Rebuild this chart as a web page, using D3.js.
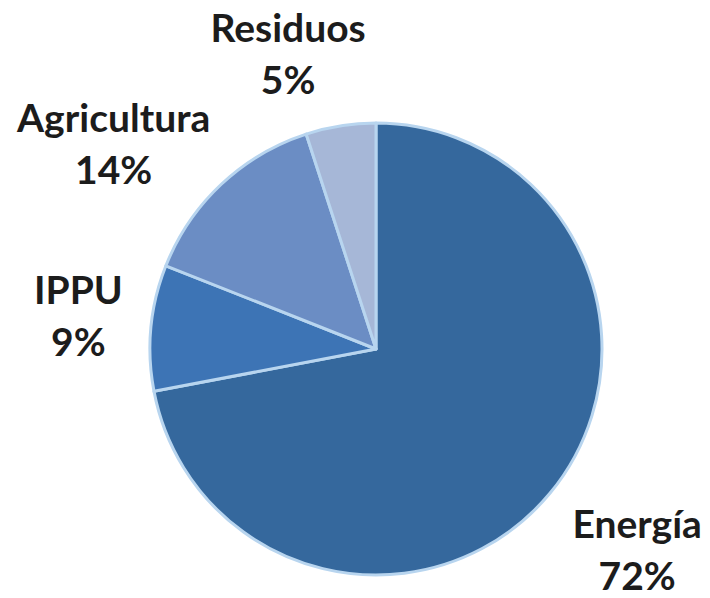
<!DOCTYPE html>
<html>
<head>
    <meta charset="utf-8">
    <script src="https://d3js.org/d3.v7.min.js"></script>
    <style>
        body { margin: 0; background: #ffffff; }
        .label {
            font-family: 'Lato', sans-serif;
            font-weight: bold;
            font-size: 39px;
            fill: #1c1c1c;
        }
    </style>
</head>
<body>
<svg id="pie" width="710" height="598"></svg>
<script>
    // data
    const categories = ["Energía", "IPPU", "Agricultura", "Residuos"];
    const shares = [72, 9, 14, 5];
    const colors = ["#35689d", "#3d74b5", "#6b8dc4", "#a6b7d7"];
    // nudges of each label from its point on the label arc
    const labelNudge = [[30, -2], [1, -17], [-57, 2], [-41, -11]];

    const width = 710, height = 598;
    const cx = 376, cy = 349, radius = 226;

    const data = categories.map((c, i) => ({ name: c, value: shares[i], color: colors[i], nudge: labelNudge[i] }));

    const pie = d3.pie().value(d => d.value).sort(null);
    const arc = d3.arc().innerRadius(0).outerRadius(radius);
    const labelArc = d3.arc().innerRadius(300).outerRadius(300);

    const svg = d3.select("#pie");
    const g = svg.append("g").attr("transform", `translate(${cx},${cy})`);

    const arcs = pie(data);

    g.selectAll("path")
        .data(arcs)
        .enter()
        .append("path")
        .attr("d", arc)
        .attr("fill", d => d.data.color)
        .attr("stroke", "#b8d5ef")
        .attr("stroke-width", 3)
        .attr("stroke-linejoin", "round");

    const labels = g.selectAll("text.label")
        .data(arcs)
        .enter()
        .append("text")
        .attr("class", "label")
        .attr("text-anchor", "middle")
        .attr("transform", d => {
            const [x, y] = labelArc.centroid(d);
            return `translate(${x + d.data.nudge[0]},${y + d.data.nudge[1]})`;
        });

    labels.append("tspan")
        .attr("x", 0)
        .attr("y", 0)
        .text(d => d.data.name);

    labels.append("tspan")
        .attr("x", 0)
        .attr("y", 52)
        .text(d => d.data.value + "%");
</script>
</body>
</html>
